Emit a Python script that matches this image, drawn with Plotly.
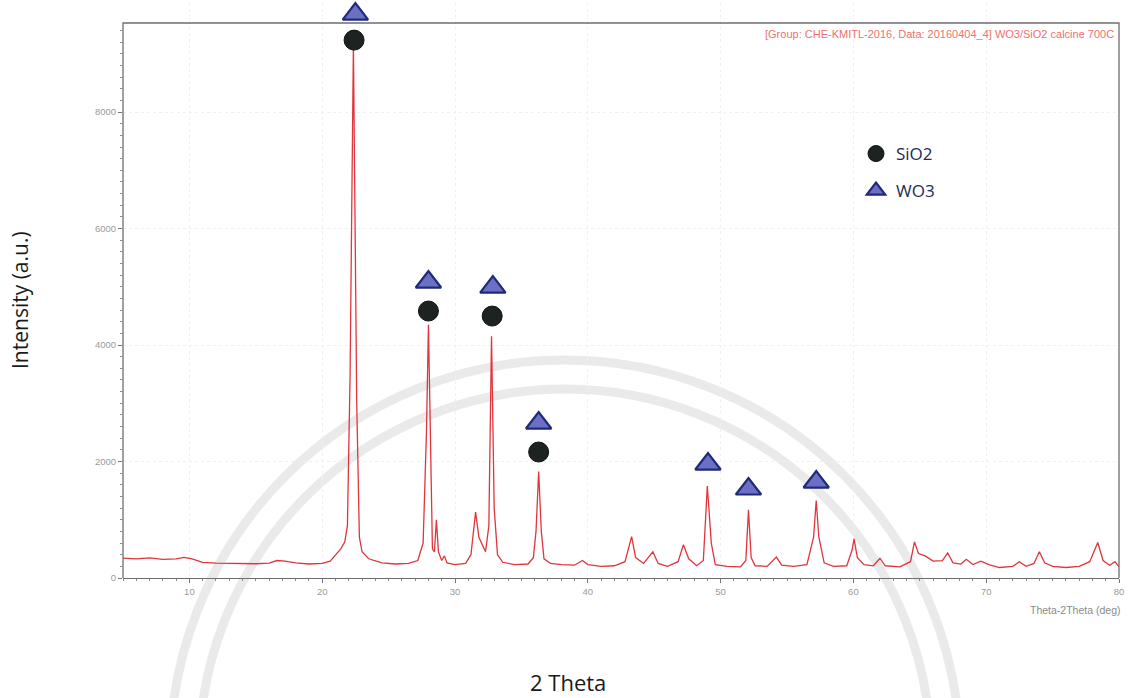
import plotly.graph_objects as go

# XRD pattern of WO3/SiO2 calcined at 700 C: 2-theta (deg) and intensity (counts)
two_theta = [
    5.0, 6.0, 7.0, 8.0, 9.0, 9.6, 10.2, 11.0, 12.0, 13.0, 14.0, 15.0, 16.0, 16.6, 17.2,
    18.0, 19.0, 20.0, 20.6, 21.0, 21.4, 21.7, 21.9, 22.1, 22.35, 22.6, 22.8, 23.0, 23.5,
    24.5, 25.5, 26.5, 27.2, 27.6, 27.85, 28.0, 28.15, 28.3, 28.45, 28.6, 28.75, 29.0,
    29.2, 29.4, 30.0, 30.8, 31.2, 31.55, 31.8, 32.0, 32.3, 32.55, 32.75, 32.95, 33.2,
    33.6, 34.5, 35.5, 35.9, 36.1, 36.3, 36.5, 36.7, 37.2, 38.0, 39.0, 39.6, 40.0, 41.0,
    42.0, 42.8, 43.3, 43.6, 44.2, 44.9, 45.3, 46.0, 46.8, 47.2, 47.6, 48.2, 48.7, 49.0,
    49.3, 49.6, 50.5, 51.5, 51.9, 52.1, 52.3, 52.6, 53.5, 54.2, 54.6, 55.5, 56.5, 57.0,
    57.2, 57.4, 57.8, 58.5, 59.5, 59.9, 60.05, 60.3, 60.8, 61.5, 62.0, 62.4, 63.5, 64.3,
    64.6, 64.9, 65.4, 66.0, 66.7, 67.1, 67.5, 68.1, 68.5, 69.0, 69.6, 70.2, 71.0, 72.0,
    72.5, 73.0, 73.6, 74.0, 74.4, 75.0, 76.0, 77.0, 77.8, 78.4, 78.8, 79.3, 79.7, 80.0,
]
intensity = [
    340, 330, 345, 320, 330, 355, 330, 270, 255, 250, 240, 245, 255, 300, 290,
    260, 240, 250, 290, 400, 500, 620, 900, 3500, 9150, 3000, 700, 450, 330,
    260, 240, 250, 300, 600, 2500, 4350, 2000, 500, 450, 1000, 450, 300,
    380, 260, 230, 250, 400, 1130, 700, 600, 450, 900, 4150, 1200, 400,
    270, 230, 240, 350, 800, 1830, 800, 330, 250, 230, 220, 300, 230, 200,
    210, 280, 710, 350, 250, 450, 250, 200, 280, 570, 330, 210, 300, 1580,
    600, 230, 200, 190, 300, 1170, 350, 210, 200, 360, 220, 200, 230, 700,
    1330, 700, 260, 200, 210, 480, 670, 350, 230, 210, 340, 210, 190, 280,
    620, 420, 380, 290, 300, 430, 260, 240, 320, 230, 290, 230, 180, 200,
    280, 200, 250, 450, 260, 200, 180, 200, 280, 610, 300, 220, 280, 190,
]

# Phase identification marks placed above the assigned reflections
sio2_theta = [22.4, 28.0, 32.8, 36.3]
sio2_mark = [9236, 4584, 4498, 2163]
wo3_theta = [22.5, 28.0, 32.85, 36.3, 49.05, 52.1, 57.2]
wo3_mark = [9682, 5082, 4996, 2661, 1957, 1528, 1648]

x_ticks = [10, 20, 30, 40, 50, 60, 70, 80]
y_ticks = [0, 2000, 4000, 6000, 8000]
y_minor = list(range(0, 9530, 200))
x_min, x_max = 5, 80
y_frame = 9530                         # top edge of the plot frame

W, H = 1130, 698
L, R, T, B = 123, 11, 3, 120           # outer margins (px)
FRAME_TOP = 23                         # pixel row of the frame's top edge
PW, PH = W - L - R, H - T - B
y_top = y_frame * PH / (H - B - FRAME_TOP)   # axis range reaches past the frame


def px_to_paper(px, py):
    return (px - L) / PW, (H - B - py) / PH


fig = go.Figure()

fig.add_trace(go.Scatter(
    x=two_theta, y=intensity, mode="lines",
    line=dict(color="#e0353d", width=1.3),
    showlegend=False, hoverinfo="x+y",
))
fig.add_trace(go.Scatter(
    x=sio2_theta, y=sio2_mark, mode="markers", name="SiO2",
    legendgroup="a", cliponaxis=False,
    marker=dict(symbol="circle", size=20, color="#1d2320",
                line=dict(color="#111", width=1)),
))
fig.add_trace(go.Scatter(
    x=wo3_theta, y=wo3_mark, mode="markers", name="WO3",
    legendgroup="b", cliponaxis=False,
    marker=dict(symbol="triangle-up", size=22, color="#6b70c4",
                line=dict(color="#1f2a78", width=2.2)),
))

shapes = []
# faint seal arcs in the background
cx, cy = 565, 755
for r in (395, 366):
    x0, y0 = px_to_paper(cx - r, cy + r)
    x1, y1 = px_to_paper(cx + r, cy - r)
    shapes.append(dict(type="circle", xref="paper", yref="paper",
                       x0=x0, y0=y0, x1=x1, y1=y1, layer="below",
                       line=dict(color="rgba(205,205,205,0.42)", width=9)))
# plot frame: top, left and right edges (the x axis supplies the bottom)
fx_r, fy_t = px_to_paper(W - R, FRAME_TOP)
frame_line = dict(color="#6e6e6e", width=1.3)
shapes.append(dict(type="path", xref="paper", yref="paper", layer="above",
                   path=f"M 0 0 L 0 {fy_t:.5f} L 1 {fy_t:.5f} L 1 0",
                   line=frame_line))

narrow = "Liberation Sans Narrow, Arial Narrow, sans-serif"
ann = []
hx, hy = px_to_paper(1116, 34)
ann.append(dict(x=hx, y=hy, xref="paper", yref="paper", xanchor="right", yanchor="middle",
                text="[Group: CHE-KMITL-2016, Data: 20160404_4] WO3/SiO2 calcine 700C",
                showarrow=False, font=dict(size=11, color="#f07070", family=narrow)))
tx, ty = px_to_paper(1075, 610)
ann.append(dict(x=tx, y=ty, xref="paper", yref="paper", xanchor="center", yanchor="middle",
                text="Theta-2Theta (deg)", showarrow=False,
                font=dict(size=10.5, color="#8a8a8a", family=narrow)))
xx, xy = px_to_paper(568, 682)
ann.append(dict(x=xx, y=xy, xref="paper", yref="paper", xanchor="center", yanchor="middle",
                text="2 Theta", showarrow=False,
                font=dict(size=22, color="#1a1a1a", family="Open Sans, sans-serif")))
yx, yy = px_to_paper(20, 300)
ann.append(dict(x=yx, y=yy, xref="paper", yref="paper", xanchor="center", yanchor="middle",
                text="Intensity (a.u.)", textangle=-90, showarrow=False,
                font=dict(size=21, color="#1a1a1a", family="Open Sans, sans-serif")))

lx, ly = px_to_paper(856, 136)

axis_common = dict(
    ticks="outside", ticklen=4, tickcolor="#777", tickwidth=1,
    tickfont=dict(size=9.5, color="#9a9a9a", family=narrow),
    showgrid=True, gridcolor="#f0f0f0", griddash="dot", gridwidth=1,
    zeroline=False,
)

fig.update_layout(
    width=W, height=H,
    margin=dict(l=L, r=R, t=T, b=B),
    paper_bgcolor="white", plot_bgcolor="rgba(0,0,0,0)",
    xaxis=dict(range=[x_min, x_max], tickvals=x_ticks, showline=True,
               linecolor="#6e6e6e", linewidth=1.3,
               minor=dict(dtick=1, ticks="outside", ticklen=2, tickcolor="#888", showgrid=False),
               **axis_common),
    yaxis=dict(range=[0, y_top], tickvals=y_ticks, showline=False,
               minor=dict(tickvals=y_minor, ticks="outside", ticklen=2, tickcolor="#888",
                          showgrid=False),
               **axis_common),
    shapes=shapes,
    annotations=ann,
    showlegend=True,
    legend=dict(x=lx, y=ly, xanchor="left", yanchor="top",
                bgcolor="rgba(0,0,0,0)", tracegroupgap=12,
                font=dict(size=17, color="#222a55", family="Open Sans, sans-serif")),
)

fig.write_html("out.html")
